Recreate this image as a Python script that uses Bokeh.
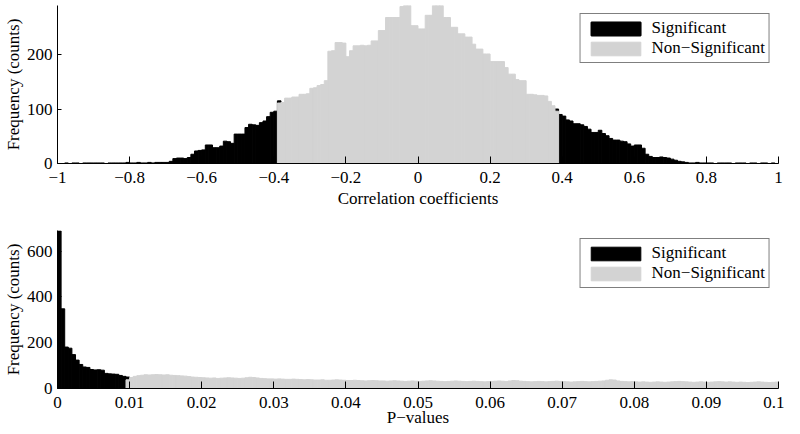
import numpy as np
from bokeh.plotting import figure
from bokeh.models import Range1d, FixedTicker, CustomJSTickFormatter, ColumnDataSource
from bokeh.layouts import column
from bokeh.embed import file_html
from bokeh.resources import INLINE

FONT = "'Liberation Serif'"
FS = "17px"
BLACK = "#000000"
GRAY = "#d3d3d3"

# ---------------- data: correlation coefficients histogram ----------------
corr_bin_width = 0.01
corr_sig_neg_start = -1.0
corr_sig_neg_counts = [0, 0, 1, 0, 1, 1, 0, 1, 1, 1, 1, 1, 1, 0, 1, 1, 1, 1, 1, 2,
                       1, 1, 2, 1, 1, 2, 1, 2, 2, 2,
                       2, 4, 9, 10, 10, 9, 11, 17, 23, 24, 25, 34, 34, 29, 29, 32, 41, 40, 37, 54,
                       54, 54, 66, 72, 71, 70, 75, 78, 86, 94, 96, 115]
corr_nonsig_start = -0.39
corr_nonsig_counts = [111, 112, 120, 120, 122, 122, 127, 127, 128, 138,
                      139, 143, 145, 152, 206, 207, 222, 222, 221, 196,
                      207, 216, 216, 217, 216, 217, 225, 225, 244, 244,
                      268, 268, 268, 268, 288, 290, 290, 253, 253, 247,
                      247, 272, 272, 290, 290, 290, 268, 268, 250, 250,
                      238, 238, 232, 232, 219, 210, 210, 201, 201, 187,
                      187, 187, 187, 176, 164, 164, 154, 152, 152, 127,
                      127, 126, 125, 125, 124, 114, 106, 96]
corr_sig_pos_start = 0.38
corr_sig_pos_counts = [100,
                       90, 87, 80, 78, 73, 73, 71, 68, 63, 57,
                       57, 61, 55, 51, 46, 43, 43, 41, 40, 36,
                       32, 34, 34, 28, 17, 13, 11, 11, 12, 11,
                       10, 8, 6, 4, 3, 2, 1, 1, 2, 1,
                       1, 1, 1, 0, 1, 1, 1, 1, 0, 1,
                       1, 1, 0, 1, 1, 0, 1, 1, 0, 1, 0]
corr_xticks = [-1, -0.8, -0.6, -0.4, -0.2, 0, 0.2, 0.4, 0.6, 0.8, 1]
corr_yticks = [0, 100, 200]

# ---------------- data: p-values histogram ----------------
p_bin_width = 0.0005
p_sig_start = 0.0
p_sig_counts = [688, 348, 181, 176, 148, 124, 105, 94, 92, 83,
                81, 82, 80, 66, 64, 63, 62, 57, 53, 50]
p_nonsig_start = 0.0095
p_nonsig_counts = [38,
                   48, 53, 56, 58, 60, 59, 60, 61, 60, 59,
                   60, 58, 57, 56, 55, 54, 52, 50, 49, 48,
                   47, 46, 45, 46, 44, 45, 46, 47, 46, 45,
                   44, 45, 47, 49, 48, 46, 44, 43, 42, 42,
                   41, 42, 41, 40, 40, 41, 40, 39, 38, 39,
                   38, 37, 37, 38, 36, 36, 37, 38, 37, 36,
                   35, 35, 36, 35, 34, 33, 34, 35, 34, 33,
                   33, 32, 33, 34, 33, 32, 31, 32, 33, 32,
                   31, 32, 33, 34, 33, 32, 31, 30, 31, 32,
                   33, 32, 31, 30, 31, 32, 31, 30, 29, 30,
                   31, 32, 33, 32, 31, 33, 35, 34, 32, 31,
                   30, 29, 30, 31, 30, 29, 30, 31, 32, 31,
                   30, 29, 28, 29, 30, 31, 30, 29, 30, 31,
                   32, 33, 36, 38, 37, 33, 31, 30, 29, 30,
                   29, 28, 29, 28, 27, 28, 29, 28, 27, 28,
                   29, 30, 31, 30, 29, 28, 27, 28, 29, 28,
                   27, 28, 29, 30, 29, 28, 29, 28, 27, 28,
                   27, 26, 27, 28, 29, 28, 27, 26, 27, 28]
p_xticks = [0, 0.01, 0.02, 0.03, 0.04, 0.05, 0.06, 0.07, 0.08, 0.09, 0.1]
p_yticks = [0, 200, 400, 600]


def hist_source(start, width, counts):
    n = len(counts)
    left = start + width * np.arange(n)
    return ColumnDataSource(dict(left=left, right=left + width,
                                 top=np.asarray(counts, dtype=float), bottom=np.zeros(n)))


def style(p, xlabel, xticks, yticks, fmt_code, xl_std, xl_lab):
    p.xaxis.axis_label = xlabel
    p.yaxis.axis_label = "Frequency (counts)"
    p.xaxis.ticker = FixedTicker(ticks=xticks)
    p.yaxis.ticker = FixedTicker(ticks=yticks)
    p.xaxis.formatter = CustomJSTickFormatter(code=fmt_code)
    for ax in (p.xaxis, p.yaxis):
        ax.axis_label_text_font = FONT
        ax.axis_label_text_font_size = FS
        ax.axis_label_text_font_style = "normal"
        ax.axis_label_text_color = BLACK
        ax.major_label_text_font = FONT
        ax.major_label_text_font_size = FS
        ax.major_label_text_color = BLACK
        ax.axis_line_color = BLACK
        ax.major_tick_line_color = BLACK
        ax.minor_tick_line_color = None
        ax.major_tick_out = 0
    p.xaxis.major_tick_in = 7
    p.yaxis.major_tick_in = 4
    p.xaxis.major_label_standoff = xl_std
    p.xaxis.axis_label_standoff = xl_lab
    p.yaxis.major_label_standoff = 5
    p.yaxis.axis_label_standoff = 1
    p.xgrid.grid_line_color = None
    p.ygrid.grid_line_color = None
    p.outline_line_color = None
    lg = p.legend[0]
    lg.location = "top_right"
    lg.border_line_color = BLACK
    lg.border_line_width = 1
    lg.background_fill_color = "white"
    lg.background_fill_alpha = 1
    lg.label_text_font = FONT
    lg.label_text_font_size = FS
    lg.label_text_color = BLACK
    lg.glyph_width = 62
    lg.glyph_height = 17
    lg.label_height = 17
    lg.label_standoff = 5
    lg.padding = 4
    lg.spacing = 0
    lg.margin = 8


top_fmt = "const v = Math.round(tick*10)/10; return String(v).replace('-', '\u2212');"
bot_fmt = "const v = Math.round(tick*100)/100; return String(v).replace('-', '\u2212');"

p1 = figure(width=784, height=215, output_backend="svg", toolbar_location=None,
            x_range=Range1d(-1, 1), y_range=Range1d(0, 290),
            min_border_left=51, min_border_right=6, min_border_top=5, min_border_bottom=52)
p1.quad(source=hist_source(corr_sig_neg_start, corr_bin_width, corr_sig_neg_counts),
        left="left", right="right", top="top", bottom="bottom",
        fill_color=BLACK, line_color=BLACK, line_width=1, legend_label="Significant")
p1.quad(source=hist_source(corr_sig_pos_start, corr_bin_width, corr_sig_pos_counts),
        left="left", right="right", top="top", bottom="bottom",
        fill_color=BLACK, line_color=BLACK, line_width=1, legend_label="Significant")
p1.quad(source=hist_source(corr_nonsig_start, corr_bin_width, corr_nonsig_counts),
        left="left", right="right", top="top", bottom="bottom",
        fill_color=GRAY, line_color=GRAY, line_width=1, legend_label="Non\u2212Significant")
style(p1, "Correlation coefficients", corr_xticks, corr_yticks, top_fmt, 8, 3)

p2 = figure(width=784, height=217, output_backend="svg", toolbar_location=None,
            x_range=Range1d(0, 0.1), y_range=Range1d(0, 690),
            min_border_left=51, min_border_right=6, min_border_top=15, min_border_bottom=44)
p2.quad(source=hist_source(p_sig_start, p_bin_width, p_sig_counts),
        left="left", right="right", top="top", bottom="bottom",
        fill_color=BLACK, line_color=BLACK, line_width=1, legend_label="Significant")
p2.quad(source=hist_source(p_nonsig_start, p_bin_width, p_nonsig_counts),
        left="left", right="right", top="top", bottom="bottom",
        fill_color=GRAY, line_color=GRAY, line_width=1, legend_label="Non\u2212Significant")
style(p2, "P\u2212values", p_xticks, p_yticks, bot_fmt, 8, -3)

layout = column(p1, p2, spacing=0)
open("out.html", "w").write(file_html(layout, INLINE))
